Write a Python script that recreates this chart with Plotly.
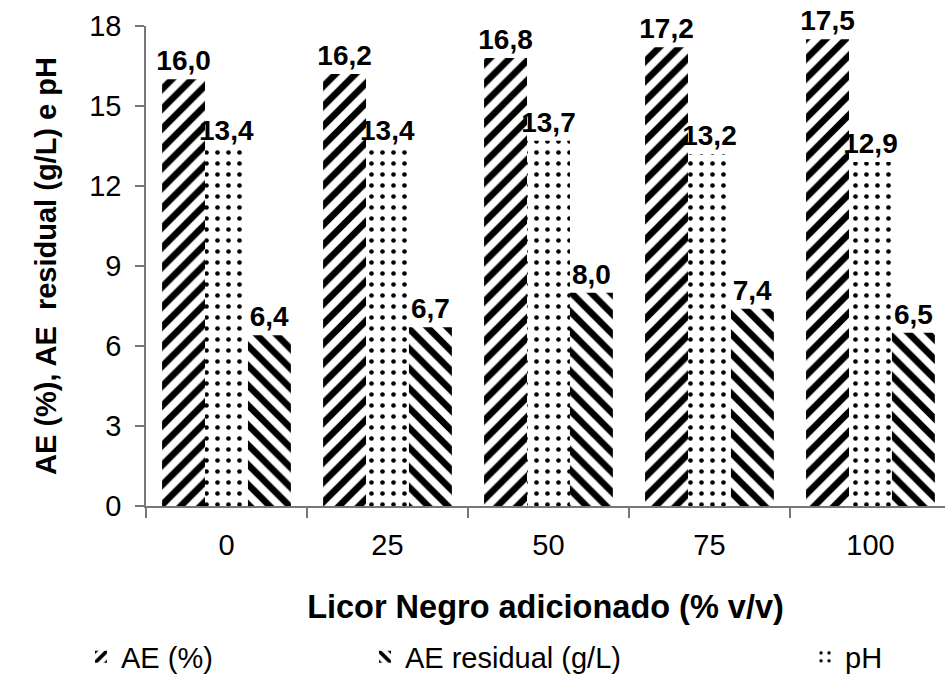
import plotly.graph_objects as go

categories = ["0", "25", "50", "75", "100"]
ae_pct = [16.0, 16.2, 16.8, 17.2, 17.5]
ph = [13.4, 13.4, 13.7, 13.2, 12.9]
ae_residual = [6.4, 6.7, 8.0, 7.4, 6.5]

FONT = "Arial, 'Liberation Sans', sans-serif"

def fmt(v):
    return [f"{x:.1f}".replace(".", ",") for x in v]

fig = go.Figure()

common = dict(
    textposition="outside",
    constraintext="none",
    textfont=dict(family=FONT, size=28, color="black", weight="bold"),
    cliponaxis=False,
    marker_line_width=0,
)

fig.add_trace(go.Bar(
    x=categories, y=ae_pct, name="AE (%)", text=fmt(ae_pct),
    marker=dict(color="white", pattern=dict(shape="/", size=14, solidity=0.47,
                                            fgcolor="black", bgcolor="white", fgopacity=1)),
    legend="legend", **common))
fig.add_trace(go.Bar(
    x=categories, y=ph, name="pH", text=fmt(ph),
    marker=dict(color="white", pattern=dict(shape=".", size=11, solidity=0.14,
                                            fgcolor="black", bgcolor="white", fgopacity=1)),
    legend="legend3", **common))
fig.add_trace(go.Bar(
    x=categories, y=ae_residual, name="AE residual (g/L)", text=fmt(ae_residual),
    marker=dict(color="white", pattern=dict(shape="\\", size=14, solidity=0.47,
                                            fgcolor="black", bgcolor="white", fgopacity=1)),
    legend="legend2", **common))

legend_common = dict(orientation="h", xref="container", yref="container",
                     yanchor="middle", xanchor="left",
                     font=dict(family=FONT, size=29, color="black"),
                     bgcolor="rgba(0,0,0,0)", borderwidth=0)

fig.update_layout(
    width=945, height=680,
    margin=dict(l=146, r=0, t=26, b=174),
    showlegend=True,
    plot_bgcolor="white", paper_bgcolor="white",
    barmode="group", bargap=0.2, bargroupgap=0,
    font=dict(family=FONT, color="black"),
    legend=dict(x=0.0857, y=0.0338, **legend_common),
    legend2=dict(x=0.3862, y=0.0338, **legend_common),
    legend3=dict(x=0.8519, y=0.0338, **legend_common),
    xaxis=dict(
        type="category", range=[-0.5, 4.463], automargin=False,
        showline=True, linecolor="#777777", linewidth=1.5,
        ticks="outside", tickson="boundaries", ticklen=10, tickcolor="#777777", tickwidth=1.5,
        tickfont=dict(family=FONT, size=29, color="black"),
        ticklabelstandoff=12,
        title=dict(text="Licor Negro adicionado (% v/v)",
                   font=dict(family=FONT, size=32.5, color="black", weight="bold"),
                   standoff=36),
        showgrid=False,
    ),
    yaxis=dict(
        range=[0, 18], tickvals=[0, 3, 6, 9, 12, 15, 18], automargin=False,
        showline=True, linecolor="#777777", linewidth=1.5,
        ticks="outside", ticklen=9, tickcolor="#777777", tickwidth=1.5,
        tickfont=dict(family=FONT, size=29, color="black"),
        ticklabelstandoff=8,
        title=dict(text="AE (%), AE  residual (g/L) e pH",
                   font=dict(family=FONT, size=29, color="black", weight="bold"),
                   standoff=24),
        showgrid=False, zeroline=False,
    ),
)

fig.write_html("out.html", config={"displayModeBar": False},
               post_script="document.body.style.margin='0px';")
